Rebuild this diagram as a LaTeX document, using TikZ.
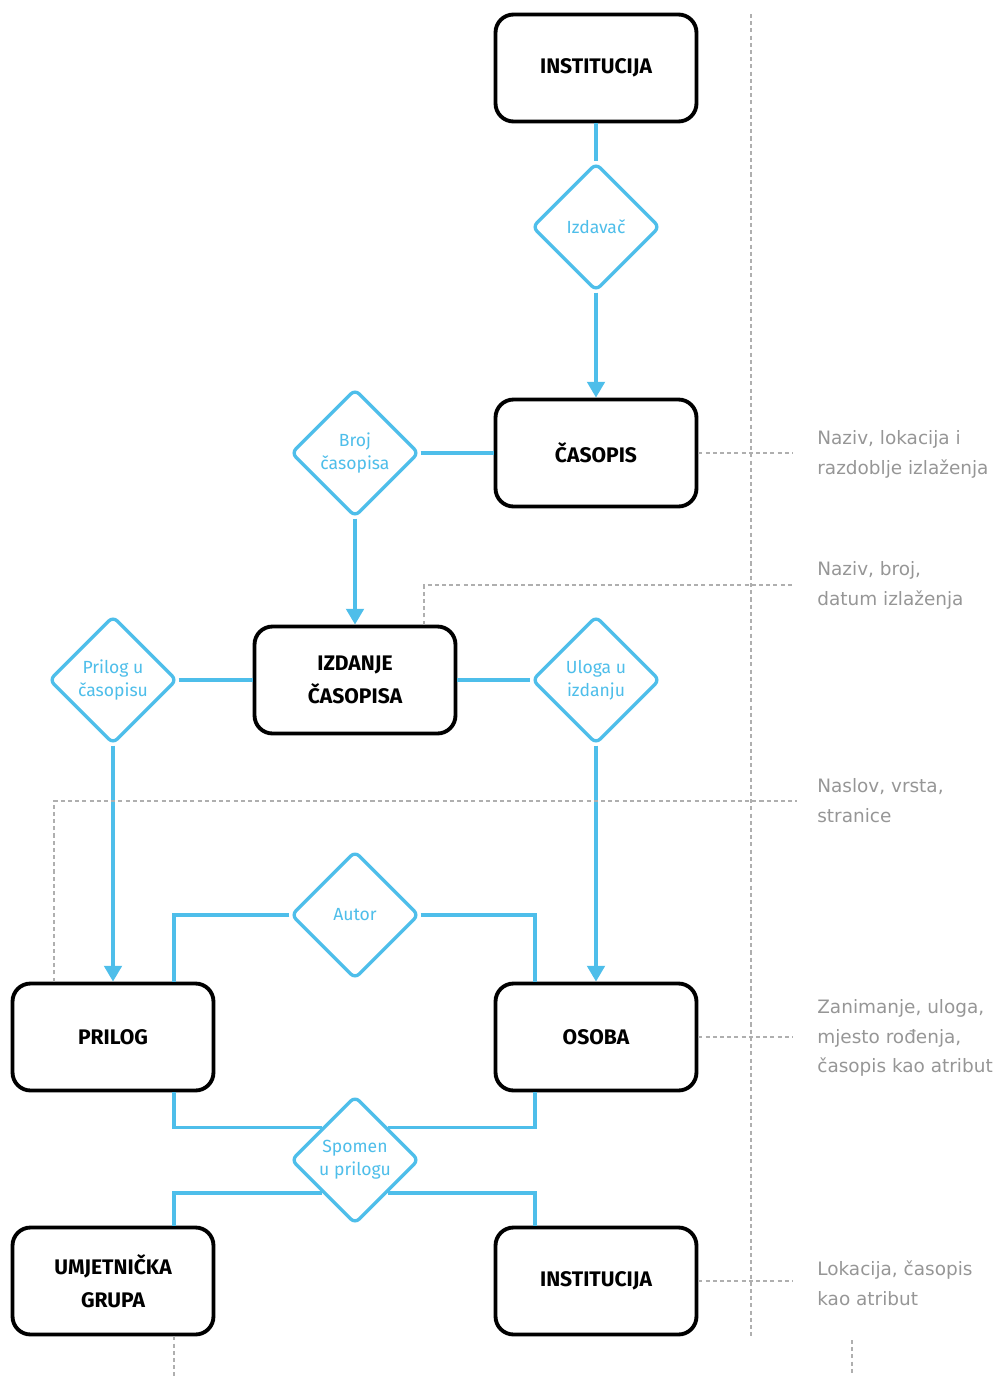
\documentclass[tikz,border=0pt]{standalone}
\usepackage{fontspec}
\setmainfont{Fira Sans}
\newfontfamily\notefont{DejaVu Sans}
\usetikzlibrary{shapes.geometric,arrows.meta,positioning}

\definecolor{relblue}{RGB}{78,190,234}
\definecolor{notegray}{RGB}{150,150,150}
\definecolor{guidegray}{RGB}{175,175,175}

\tikzset{
    entity/.style={draw=black, fill=white, line width=2.2pt, rounded corners=0.36cm,
        minimum width=4.02cm, minimum height=2.14cm, align=center,
        font=\bfseries\fontsize{12}{19}\selectfont},
    rel/.style={diamond, draw=relblue, fill=white, line width=1.9pt, rounded corners=0.12cm,
        minimum width=2.56cm, minimum height=2.56cm, inner sep=0pt, align=center,
        text=relblue, font=\fontsize{10}{13}\selectfont},
    link/.style={draw=relblue, line width=1.9pt},
    arr/.style={link, -{Triangle[width=10pt,length=9pt]}},
    guide/.style={draw=guidegray, line width=0.9pt, dash pattern=on 2.3pt off 1.8pt},
    note/.style={anchor=west, inner sep=0pt, align=left, text=notegray,
        font=\notefont\fontsize{10.5}{17}\selectfont}
}

\begin{document}
\begin{tikzpicture}[x=0.02cm, y=-0.02cm]
    \useasboundingbox (0,0) rectangle (1001,1376);

    % entiteti
    \node[entity] (inst1) at (596,68) {INSTITUCIJA};
    \node[entity] (casopis) at (596,453) {ČASOPIS};
    \node[entity] (izdanje) at (355,680) {IZDANJE\\ČASOPISA};
    \node[entity] (prilog) at (113,1037) {PRILOG};
    \node[entity] (osoba) at (596,1037) {OSOBA};
    \node[entity] (grupa) at (113,1281) {UMJETNIČKA\\GRUPA};
    \node[entity] (inst2) at (596,1281) {INSTITUCIJA};

    % veze
    \node[rel] (izdavac) at (596,227) {Izdavač};
    \node[rel] (broj) at (355,453) {Broj\\časopisa};
    \node[rel] (prilogu) at (113,680) {Prilog u\\časopisu};
    \node[rel] (uloga) at (596,680) {Uloga u\\izdanju};
    \node[rel] (autor) at (355,915) {Autor};
    \node[rel] (spomen) at (355,1160) {Spomen\\u prilogu};

    % atributi
    \node[note] (n1) at (817,454) {Naziv, lokacija i\\razdoblje izlaženja};
    \node[note] (n2) at (817,585) {Naziv, broj,\\datum izlaženja};
    \node[note] (n3) at (817,801) {Naslov, vrsta,\\stranice};
    \node[note] (n4) at (817,1038) {Zanimanje, uloga,\\mjesto rođenja,\\časopis kao atribut};
    \node[note] (n5) at (817,1283) {Lokacija, časopis\\kao atribut};

    \draw [link] (inst1) -- (izdavac);
    \draw [arr] (izdavac) -- (casopis);
    \draw [link] (broj) -- (casopis);
    \draw [arr] (broj) -- (izdanje);
    \draw [link] (prilogu) -- (izdanje);
    \draw [link] (izdanje) -- (uloga);
    \draw [arr] (prilogu) -- (prilog);
    \draw [arr] (uloga) -- (osoba);
    \draw [link] (autor.west) -| ([xshift=1.22cm]prilog.north);
    \draw [link] (autor.east) -| ([xshift=-1.22cm]osoba.north);
    \draw [link] ([xshift=1.22cm]prilog.south) |- (spomen.north west);
    \draw [link] ([xshift=-1.22cm]osoba.south) |- (spomen.north east);
    \draw [link] ([xshift=1.22cm]grupa.north) |- (spomen.south west);
    \draw [link] ([xshift=-1.22cm]inst2.north) |- (spomen.south east);

    % isprekidane linije
    \draw [guide] (751,14) -- (751,1336);
    \draw [guide, shorten >=0.48cm] (casopis.east) -- (casopis.east -| n1.west);
    \draw [guide, shorten >=0.48cm] ([xshift=1.38cm]izdanje.north) |- (n2.west);
    \draw [guide, shorten >=0.4cm] ([xshift=-1.18cm]prilog.north) |- (n3.west);
    \draw [guide, shorten >=0.48cm] (osoba.east) -- (osoba.east -| n4.west);
    \draw [guide, shorten >=0.48cm] (inst2.east) -- (inst2.east -| n5.west);
    \draw [guide] ([xshift=1.22cm]grupa.south) -- ++(0,40);
    \draw [guide] (852,1340) -- (852,1376);
\end{tikzpicture}
\end{document}
